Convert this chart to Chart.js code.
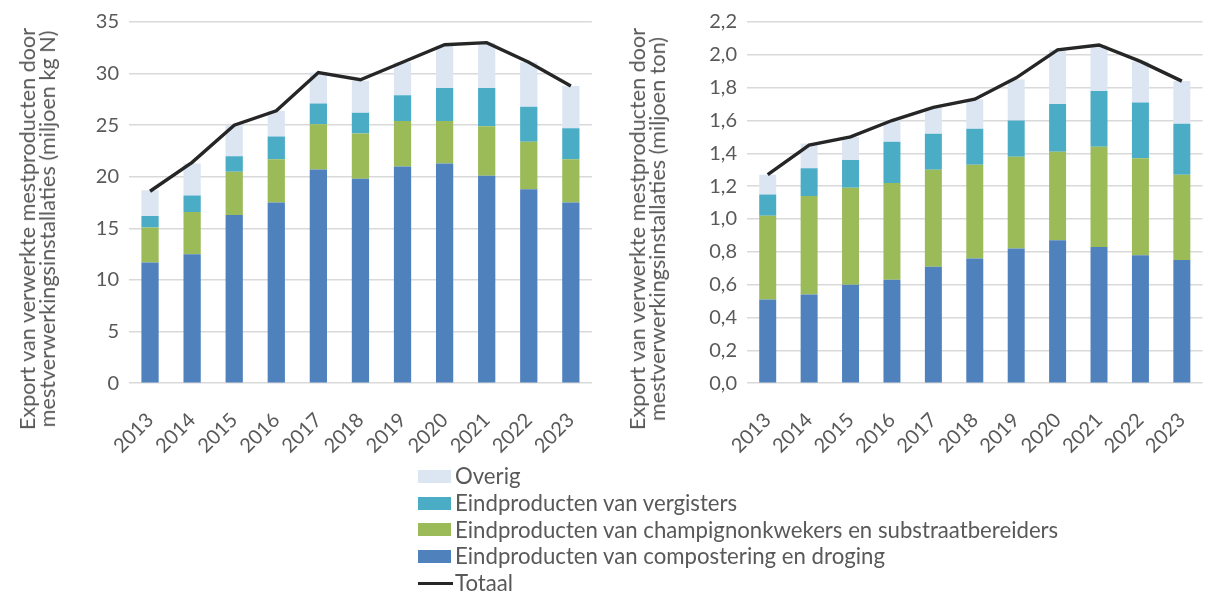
<!DOCTYPE html>
<html>
<head>
<meta charset="utf-8">
<script src="https://cdn.jsdelivr.net/npm/chart.js@4"></script>
<style>
  html, body { margin: 0; padding: 0; background: #fff; }
  body { width: 1216px; height: 595px; position: relative; overflow: hidden; font-family: Lato, sans-serif; }
  .box { position: absolute; top: 0; }
  .ytitle {
    position: absolute; top: 229px; color: #595959; font-size: 21.6px; line-height: 20px;
    white-space: nowrap; text-align: center;
    transform: translate(-50%, -50%) rotate(-90deg);
  }
  #legend { position: absolute; left: 418px; top: 463px; color: #595959; font-size: 22.2px; line-height: 26.8px; }
  #legend div { display: flex; align-items: center; white-space: nowrap; }
  #legend .sw { width: 33px; height: 13px; margin-right: 4px; }
  #legend .ln { width: 35px; height: 3.5px; background: #262626; margin-right: 2px; }
</style>
</head>
<body>
<div class="box" style="left:0px"><canvas id="chartN" width="605" height="475"></canvas></div>
<div class="box" style="left:610px"><canvas id="chartTon" width="606" height="475"></canvas></div>
<div class="ytitle" style="left:37px">Export van verwerkte mestproducten door<br>mestverwerkingsinstallaties (miljoen kg N)</div>
<div class="ytitle" style="left:647px">Export van verwerkte mestproducten door<br>mestverwerkingsinstallaties (miljoen ton)</div>
<div id="legend"></div>
<script>
const years = ['2013', '2014', '2015', '2016', '2017', '2018', '2019', '2020', '2021', '2022', '2023'];

// miljoen kg N
const nCompost = [11.7, 12.5, 16.3, 17.5, 20.7, 19.8, 21.0, 21.3, 20.1, 18.8, 17.5];
const nChampignon = [3.4, 4.1, 4.2, 4.2, 4.4, 4.4, 4.4, 4.1, 4.8, 4.6, 4.2];
const nVergister = [1.1, 1.6, 1.5, 2.2, 2.0, 2.0, 2.5, 3.2, 3.7, 3.4, 3.0];
const nOverig = [2.5, 3.1, 3.0, 2.5, 3.0, 3.1, 3.2, 4.1, 4.4, 4.3, 4.1];
const nTotaal = [18.6, 21.4, 25.0, 26.4, 30.1, 29.4, 31.1, 32.8, 33.0, 31.1, 28.8];

// miljoen ton
const tCompost = [0.51, 0.54, 0.60, 0.63, 0.71, 0.76, 0.82, 0.87, 0.83, 0.78, 0.75];
const tChampignon = [0.51, 0.60, 0.59, 0.59, 0.59, 0.57, 0.56, 0.54, 0.61, 0.59, 0.52];
const tVergister = [0.13, 0.17, 0.17, 0.25, 0.22, 0.22, 0.22, 0.29, 0.34, 0.34, 0.31];
const tOverig = [0.12, 0.15, 0.14, 0.13, 0.16, 0.18, 0.25, 0.33, 0.28, 0.25, 0.26];
const tTotaal = [1.27, 1.45, 1.50, 1.60, 1.68, 1.73, 1.86, 2.03, 2.06, 1.96, 1.84];

const nTicks = [0, 5, 10, 15, 20, 25, 30, 35];
const tTicks = [0, 0.2, 0.4, 0.6, 0.8, 1.0, 1.2, 1.4, 1.6, 1.8, 2.0, 2.2];

const colors = {
  compost: '#4F81BD',
  champignon: '#9BBB59',
  vergister: '#4BACC6',
  overig: '#DCE6F2',
  totaal: '#262626',
};
const labels = {
  overig: 'Overig',
  vergister: 'Eindproducten van vergisters',
  champignon: 'Eindproducten van champignonkwekers en substraatbereiders',
  compost: 'Eindproducten van compostering en droging',
  totaal: 'Totaal',
};

const textColor = '#595959';
const gridColor = '#D9D9D9';
const font = { family: 'Lato, sans-serif', size: 20 };

function bar(key, data) {
  return {
    type: 'bar', label: labels[key], data: data, order: 1,
    backgroundColor: colors[key], borderWidth: 0,
    categoryPercentage: 1, barPercentage: 0.41,
  };
}

function makeChart(id, series, tickValues, fmt, axisWidth) {
  new Chart(document.getElementById(id), {
    data: {
      labels: years,
      datasets: [
        { type: 'line', label: labels.totaal, data: series[4], order: 0, stack: 'totaal',
          borderColor: colors.totaal, borderWidth: 3.4, pointRadius: 0, tension: 0, fill: false },
        bar('compost', series[0]),
        bar('champignon', series[1]),
        bar('vergister', series[2]),
        bar('overig', series[3]),
      ]
    },
    options: {
      responsive: false,
      animation: false,
      layout: { padding: { top: 6, right: 4, left: 0, bottom: 0 } },
      plugins: { legend: { display: false }, tooltip: { enabled: false } },
      scales: {
        x: {
          stacked: true,
          grid: { display: false },
          border: { display: false },
          ticks: { color: textColor, font: font, maxRotation: 45, minRotation: 45, padding: 17 },
        },
        y: {
          stacked: true,
          min: tickValues[0],
          max: tickValues[tickValues.length - 1],
          afterBuildTicks: (scale) => { scale.ticks = tickValues.map(v => ({ value: v })); },
          afterFit: (scale) => { scale.width = axisWidth; },
          grid: { color: gridColor, lineWidth: 1.5, drawTicks: false },
          border: { display: false },
          ticks: { color: textColor, font: font, padding: 10, callback: fmt },
        }
      }
    }
  });
}

makeChart('chartN', [nCompost, nChampignon, nVergister, nOverig, nTotaal], nTicks,
  v => String(v), 129);
makeChart('chartTon', [tCompost, tChampignon, tVergister, tOverig, tTotaal], tTicks,
  v => v.toFixed(1).replace('.', ','), 137);

// shared legend below both charts
const legend = document.getElementById('legend');
['overig', 'vergister', 'champignon', 'compost', 'totaal'].forEach(key => {
  const row = document.createElement('div');
  const mark = document.createElement('span');
  if (key === 'totaal') {
    mark.className = 'ln';
  } else {
    mark.className = 'sw';
    mark.style.background = colors[key];
  }
  row.appendChild(mark);
  row.appendChild(document.createTextNode(labels[key]));
  legend.appendChild(row);
});
</script>
</body>
</html>
